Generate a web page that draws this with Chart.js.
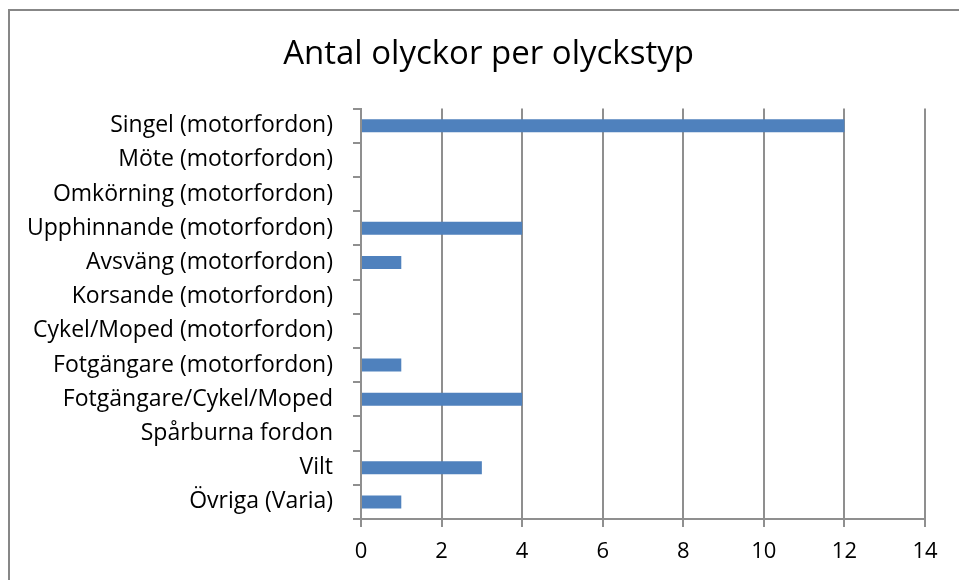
<!DOCTYPE html>
<html>
<head>
<meta charset="utf-8">
<script src="https://cdn.jsdelivr.net/npm/chart.js@4.4.1/dist/chart.umd.min.js"></script>
<style>
  html, body { margin: 0; padding: 0; background: #fff; }
</style>
</head>
<body>
<canvas id="olyckorChart" width="959" height="580"></canvas>
<script>
// ---------------- Données ----------------
const categories = [
    'Singel (motorfordon)',
    'Möte (motorfordon)',
    'Omkörning (motorfordon)',
    'Upphinnande (motorfordon)',
    'Avsväng (motorfordon)',
    'Korsande (motorfordon)',
    'Cykel/Moped (motorfordon)',
    'Fotgängare (motorfordon)',
    'Fotgängare/Cykel/Moped',
    'Spårburna fordon',
    'Vilt',
    'Övriga (Varia)'
];
const antal = [12, 0, 0, 4, 1, 0, 0, 1, 4, 0, 3, 1];
const xMin = 0;
const xMax = 14;
const xStep = 2;

const FONT = '"Open Sans"';
const GRIS = '#8f8f8f';

// cadre gris autour du graphique (comme Excel)
const cadre = {
    id: 'cadre',
    beforeDraw(chart) {
        const ctx = chart.ctx;
        ctx.save();
        ctx.fillStyle = '#fff';
        ctx.fillRect(0, 0, chart.width, chart.height);
        ctx.strokeStyle = '#878787';
        ctx.lineWidth = 2;
        ctx.strokeRect(9, 10, chart.width + 20, chart.height + 20);
        ctx.restore();
    }
};

// décaler le titre un peu vers la droite
const decalageTitre = {
    id: 'decalageTitre',
    afterLayout(chart) {
        chart.titleBlock.left += 32;
    }
};

const ctx = document.getElementById('olyckorChart').getContext('2d');
new Chart(ctx, {
    type: 'bar',
    data: {
        labels: categories,
        datasets: [{
            data: antal,
            backgroundColor: '#4f81bd',
            borderWidth: 0,
            categoryPercentage: 1,
            barPercentage: 0.38
        }]
    },
    options: {
        indexAxis: 'y',
        responsive: false,
        animation: false,
        layout: { padding: { left: 20, right: 34, top: 0, bottom: 0 } },
        plugins: {
            legend: { display: false },
            tooltip: { enabled: false },
            title: {
                display: true,
                text: 'Antal olyckor per olyckstyp',
                color: '#000',
                font: { family: FONT, size: 33, weight: 'normal' },
                padding: { top: 35, bottom: 34 }
            }
        },
        scales: {
            x: {
                min: xMin,
                max: xMax,
                ticks: {
                    stepSize: xStep,
                    color: '#000',
                    font: { family: FONT, size: 22 },
                    padding: 12
                },
                grid: { color: GRIS, lineWidth: 2, tickLength: 8 },
                border: { color: GRIS, width: 2 },
                afterFit(scale) { scale.height = 61; }
            },
            y: {
                ticks: {
                    color: '#000',
                    font: { family: FONT, size: 23 },
                    padding: 20,
                    autoSkip: false
                },
                grid: { color: GRIS, lineWidth: 2, tickLength: 8, offset: true, drawOnChartArea: false },
                border: { color: GRIS, width: 2 },
                afterFit(scale) { scale.width = 341; }
            }
        }
    },
    plugins: [cadre, decalageTitre]
});
</script>
</body>
</html>
